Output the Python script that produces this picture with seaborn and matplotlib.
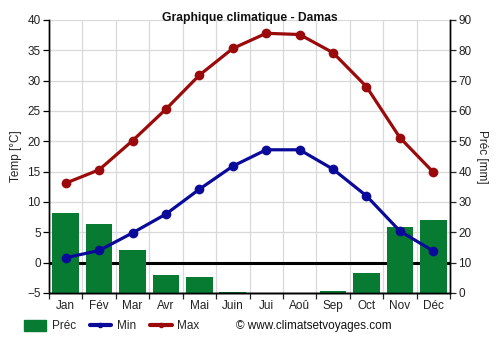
import matplotlib
matplotlib.use("Agg")
import matplotlib.pyplot as plt
import seaborn as sns
import pandas as pd
import numpy as np
from matplotlib.patches import Patch
from matplotlib.lines import Line2D

months = ["Jan", "Fév", "Mar", "Avr", "Mai", "Juin", "Jui", "Aoû", "Sep", "Oct", "Nov", "Déc"]
prec_mm = [26.4, 22.8, 14.1, 5.8, 5.2, 0.4, 0.0, 0.0, 0.5, 6.5, 21.7, 24.0]
temp_min = [0.8, 2.0, 4.9, 8.0, 12.1, 15.9, 18.6, 18.6, 15.4, 11.0, 5.2, 1.9]
temp_max = [13.1, 15.3, 20.1, 25.3, 30.9, 35.3, 37.8, 37.6, 34.6, 29.0, 20.6, 14.9]

GREEN = "#077b31"
BLUE = "#0a0a9a"
RED = "#9a0a0a"

sns.set_theme(style="white")
plt.rcParams["font.family"] = ["Liberation Sans", "DejaVu Sans"]

df = pd.DataFrame({"mois": months, "x": np.arange(len(months)),
                   "prec": prec_mm, "tmin": temp_min, "tmax": temp_max})

fig = plt.figure(figsize=(5, 3.5), dpi=100)
ax_t = fig.add_axes([0.098, 0.163, 0.802, 0.78])
ax_p = ax_t.twinx()
ax_l = ax_t.twinx()

# temperature axis: grid and freezing line
ax_t.set_xlim(-0.5, 11.5)
ax_t.set_ylim(-5, 40)
ax_t.set_yticks(np.arange(-5, 41, 5))
ax_t.set_xticks(np.arange(-0.5, 12, 1))
ax_t.set_xticklabels([])
ax_t.set_xticks(np.arange(12), minor=True)
ax_t.set_xticklabels(months, minor=True)
ax_t.grid(True, which="major", color="#d9d9d9", linewidth=0.9)
ax_t.axhline(0, color="black", linewidth=2.2, zorder=1)
ax_t.set_ylabel("Temp [°C]", fontsize=8.5, color="#222222", labelpad=4)
ax_t.tick_params(axis="y", which="major", length=4, width=0.9, labelsize=8.5,
                 direction="out", left=True, pad=2, colors="black")
ax_t.tick_params(axis="x", which="major", length=4, width=0.9, direction="out", bottom=True)
ax_t.tick_params(axis="x", which="minor", length=0, labelsize=8.5, pad=5)
for lbl in ax_t.get_xticklabels(minor=True) + ax_t.get_yticklabels():
    lbl.set_color("#222222")

# precipitation bars on the right-hand scale
sns.barplot(data=df, x="x", y="prec", ax=ax_p, color=GREEN, width=0.8,
            saturation=1, native_scale=True, linewidth=0, edgecolor=GREEN, zorder=2)
ax_p.set_xlim(-0.5, 11.5)
ax_p.set_ylim(0, 90)
ax_p.set_yticks(np.arange(0, 91, 10))
ax_p.set_ylabel("Préc [mm]", fontsize=8.5, color="#222222", rotation=270, labelpad=12)
ax_p.set_xlabel("")
ax_p.tick_params(axis="y", length=4, width=0.9, labelsize=8.5, direction="out",
                 right=True, pad=2)
for lbl in ax_p.get_yticklabels():
    lbl.set_color("#222222")
ax_p.grid(False)

# temperature lines on top
sns.lineplot(data=df, x="x", y="tmax", ax=ax_l, color=RED, linewidth=2.3,
             marker="o", markersize=7, markeredgewidth=0)
sns.lineplot(data=df, x="x", y="tmin", ax=ax_l, color=BLUE, linewidth=2.3,
             marker="o", markersize=7, markeredgewidth=0)
ax_l.set_xlim(-0.5, 11.5)
ax_l.set_ylim(-5, 40)
ax_l.set_yticks([])
ax_l.set_ylabel("")
ax_l.set_xlabel("")
ax_l.grid(False)

for a in (ax_t, ax_p, ax_l):
    a.spines["top"].set_visible(False)
    for s in ("left", "right", "bottom"):
        a.spines[s].set_color("black")
        a.spines[s].set_linewidth(1.0)
ax_l.spines["left"].set_visible(False)
ax_l.spines["right"].set_visible(False)
ax_t.set_xlabel("")

fig.suptitle("Graphique climatique - Damas", x=0.5, y=0.965, fontsize=8.7,
             fontweight="bold", color="#111111")

handles = [
    Patch(facecolor=GREEN, edgecolor=GREEN),
    Line2D([0], [0], color=BLUE, linewidth=3, marker="o", markersize=3),
    Line2D([0], [0], color=RED, linewidth=3, marker="o", markersize=3),
]
fig.legend(handles, ["Préc", "Min", "Max"], loc="center left",
           bbox_to_anchor=(0.044, 0.068), ncol=3, frameon=False, fontsize=8.5,
           handlelength=1.8, handleheight=1.0, columnspacing=1.2, handletextpad=0.5,
           borderaxespad=0, borderpad=0.2)
fig.text(0.472, 0.068, "© www.climatsetvoyages.com", fontsize=8.5,
         va="center", ha="left", color="#111111")

fig.savefig("out.png", dpi=100)
